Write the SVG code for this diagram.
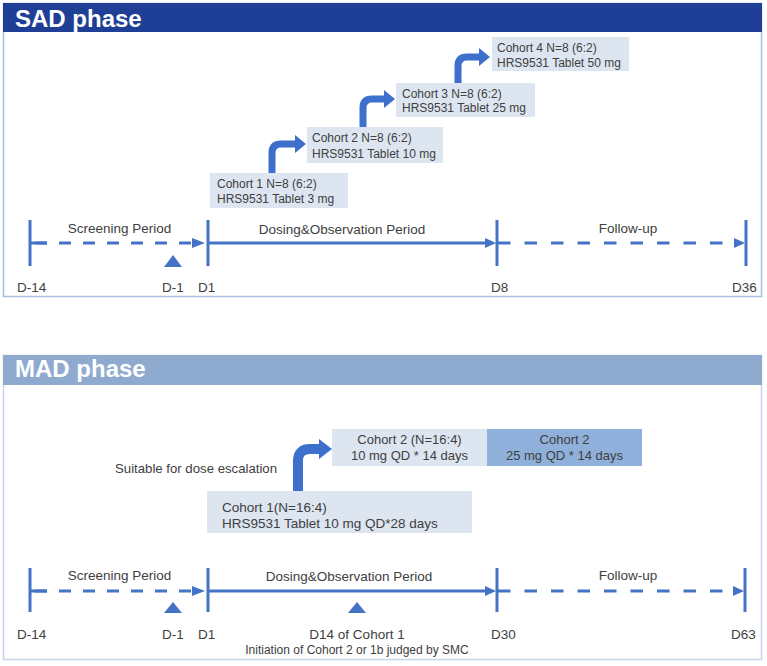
<svg xmlns="http://www.w3.org/2000/svg" width="767" height="666" viewBox="0 0 767 666">
<style>
.t{font-family:"Liberation Sans",Arial,sans-serif;fill:#404040}
.lbl{font-size:13.5px}
.coh{font-size:12px}
.mc{font-size:13.5px}
.m2{font-size:13px}
.hdr{font-family:"Liberation Sans",Arial,sans-serif;font-weight:bold;font-size:24px;fill:#ffffff}
.box{fill:#dde5f0}
.dk{fill:#8fb0da}
.ax{stroke:#4472c4;stroke-width:3;fill:none}
.dash{stroke:#4472c4;stroke-width:3;fill:none;stroke-dasharray:12 12}
.dash2{stroke:#4472c4;stroke-width:3;fill:none;stroke-dasharray:12.5 14}
.tri{fill:#4472c4}
.bend{stroke:#3d6fcc;fill:none}
.bh{fill:#3d6fcc}
</style>

<g id="sad-frame">
<rect x="3.5" y="3.5" width="758" height="293" fill="#ffffff" stroke="#a9bee2" stroke-width="1.5"/>
<rect x="3" y="3" width="759" height="29" fill="#1f3f96"/>
<text class="hdr" x="15" y="27">SAD phase</text>
</g>

<g id="mad-frame">
<rect x="3.5" y="355.5" width="758" height="304" fill="#ffffff" stroke="#c8d5ea" stroke-width="1.5"/>
<rect x="3" y="355" width="759" height="30" fill="#8eabcf"/>
<text class="hdr" x="15" y="377">MAD phase</text>
</g>

<g id="sad-cohort1">
<rect class="box" x="210" y="173" width="138" height="35"/>
<text class="t coh" x="217" y="188">Cohort 1 N=8 (6:2)</text>
<text class="t coh" x="217" y="203">HRS9531 Tablet 3 mg</text>
</g>
<g id="sad-cohort2">
<rect class="box" x="307" y="127" width="136" height="36"/>
<text class="t coh" x="312" y="142">Cohort 2 N=8 (6:2)</text>
<text class="t coh" x="312" y="158">HRS9531 Tablet 10 mg</text>
</g>
<g id="sad-cohort3">
<rect class="box" x="396" y="83" width="139" height="34"/>
<text class="t coh" x="402" y="98">Cohort 3 N=8 (6:2)</text>
<text class="t coh" x="402" y="112">HRS9531 Tablet 25 mg</text>
</g>
<g id="sad-cohort4">
<rect class="box" x="492" y="37" width="137" height="34"/>
<text class="t coh" x="497" y="52">Cohort 4 N=8 (6:2)</text>
<text class="t coh" x="497" y="67">HRS9531 Tablet 50 mg</text>
</g>

<g id="mad-cohort1">
<rect class="box" x="207" y="491" width="265" height="42"/>
<text class="t mc" x="222" y="512">Cohort 1(N=16:4)</text>
<text class="t mc" x="222" y="528">HRS9531 Tablet 10 mg QD*28 days</text>
</g>
<g id="mad-cohort2a">
<rect class="box" x="332" y="429" width="155" height="37"/>
<text class="t m2" x="409.5" y="444" text-anchor="middle">Cohort 2 (N=16:4)</text>
<text class="t m2" x="409.5" y="460" text-anchor="middle">10 mg QD * 14 days</text>
</g>
<g id="mad-cohort2b">
<rect class="dk" x="487" y="429" width="155" height="37"/>
<text class="t m2" x="564.5" y="444" text-anchor="middle">Cohort 2</text>
<text class="t m2" x="564.5" y="460" text-anchor="middle">25 mg QD * 14 days</text>
</g>
<g id="mad-note">
<text class="t" font-size="13.2" x="115" y="473">Suitable for dose escalation</text>
</g>

<g id="connectors">
<path class="bend" stroke-width="7" d="M272,173 V153 Q272,144 281,144 H296"/>
<polygon class="bh" points="295,135 306,144 295,153"/>
<path class="bend" stroke-width="7" d="M363,127 V108 Q363,99 372,99 H385"/>
<polygon class="bh" points="384,90 395,99 384,108"/>
<path class="bend" stroke-width="7" d="M458,83 V66 Q458,57 467,57 H480"/>
<polygon class="bh" points="479,48 490,57 479,66"/>
<path class="bend" stroke-width="10" d="M298,491 V461 Q298,449 310,449 H321"/>
<polygon class="bh" points="319,439 332,449 319,459"/>

<line class="ax" x1="30" y1="220" x2="30" y2="266"/>
<line class="ax" x1="208" y1="220" x2="208" y2="266"/>
<line class="ax" x1="497" y1="220" x2="497" y2="266"/>
<line class="ax" x1="746" y1="220" x2="746" y2="266"/>
<line class="dash" x1="30" y1="243" x2="192" y2="243" stroke-dashoffset="-5"/>
<line class="ax" x1="30" y1="243" x2="47" y2="243"/>
<polygon class="tri" points="192,238 205,243 192,248"/>
<line class="ax" x1="208" y1="243" x2="487" y2="243"/>
<polygon class="tri" points="485,238 496,243 485,248"/>
<line class="dash2" x1="498" y1="243" x2="735" y2="243"/>
<polygon class="tri" points="734,238 745,243 734,248"/>
<polygon class="tri" points="173,255 182,267 164,267"/>

<line class="ax" x1="30" y1="568" x2="30" y2="612"/>
<line class="ax" x1="208" y1="568" x2="208" y2="612"/>
<line class="ax" x1="497" y1="568" x2="497" y2="612"/>
<line class="ax" x1="745" y1="568" x2="745" y2="612"/>
<line class="dash" x1="30" y1="591" x2="192" y2="591" stroke-dashoffset="-5"/>
<line class="ax" x1="30" y1="591" x2="47" y2="591"/>
<polygon class="tri" points="192,586 205,591 192,596"/>
<line class="ax" x1="208" y1="591" x2="487" y2="591"/>
<polygon class="tri" points="485,586 496,591 485,596"/>
<line class="dash2" x1="498" y1="591" x2="735" y2="591"/>
<polygon class="tri" points="733,586 744,591 733,596"/>
<polygon class="tri" points="173,602 182,613 164,613"/>
<polygon class="tri" points="357,602 366,613 348,613"/>
</g>

<g id="sad-labels">
<text class="t lbl" x="119.5" y="233" text-anchor="middle">Screening Period</text>
<text class="t lbl" x="342" y="234" text-anchor="middle">Dosing&amp;Observation Period</text>
<text class="t lbl" x="628" y="233" text-anchor="middle">Follow-up</text>
<text class="t lbl" x="17" y="292">D-14</text>
<text class="t lbl" x="162" y="292">D-1</text>
<text class="t lbl" x="198" y="292">D1</text>
<text class="t lbl" x="491" y="292">D8</text>
<text class="t lbl" x="732" y="292">D36</text>
</g>

<g id="mad-labels">
<text class="t lbl" x="119.5" y="580" text-anchor="middle">Screening Period</text>
<text class="t lbl" x="349" y="581" text-anchor="middle">Dosing&amp;Observation Period</text>
<text class="t lbl" x="628" y="580" text-anchor="middle">Follow-up</text>
<text class="t lbl" x="17" y="639">D-14</text>
<text class="t lbl" x="162" y="639">D-1</text>
<text class="t lbl" x="198" y="639">D1</text>
<text class="t lbl" x="357" y="639" text-anchor="middle">D14 of Cohort 1</text>
<text class="t" font-size="12" x="357" y="654" text-anchor="middle">Initiation of Cohort 2 or 1b judged by SMC</text>
<text class="t lbl" x="491" y="639">D30</text>
<text class="t lbl" x="731" y="639">D63</text>
</g>
</svg>
